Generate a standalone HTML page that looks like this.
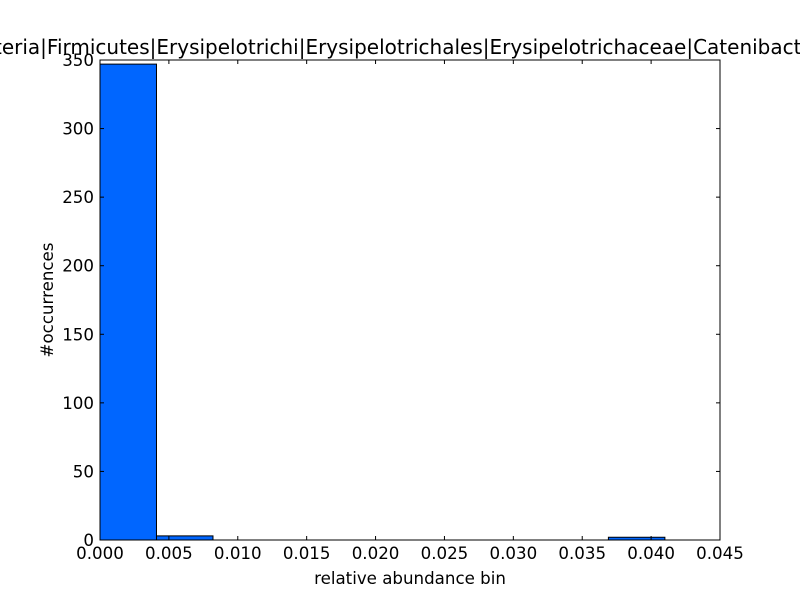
<!DOCTYPE html>
<html><head><meta charset="utf-8"><style>
html,body{margin:0;padding:0;background:#fff;}
svg{display:block;font-family:"DejaVu Sans","Liberation Sans",sans-serif;}
</style></head><body>
<svg id="chart" width="800" height="600" viewBox="0 0 800 600">
<rect width="800" height="600" fill="#fff"/>
<text x="-43" y="54" font-size="20" text-anchor="start">Bacteria|Firmicutes|Erysipelotrichi|Erysipelotrichales|Erysipelotrichaceae|Catenibacterium</text>
<g id="bars"></g>
<rect x="100" y="60" width="620" height="480" fill="none" stroke="#000" stroke-width="1"/>
<g id="ticks"></g>
<text x="410" y="584" font-size="16.67" text-anchor="middle">relative abundance bin</text>
<text transform="translate(53,300) rotate(-90)" font-size="16.67" text-anchor="middle">#occurrences</text>
</svg>
<script>
const binEdgesStart = 0;
const binWidth = 0.0041;
const counts = [347, 3, 0, 0, 0, 0, 0, 0, 0, 2];
const xTicks = [0.000,0.005,0.010,0.015,0.020,0.025,0.030,0.035,0.040,0.045];
const yTicks = [0,50,100,150,200,250,300,350];
const X0=100,X1=720,Y0=540,Y1=60,XMAX=0.045,YMAX=350;
const sx=v=>X0+(v/XMAX)*(X1-X0);
const sy=v=>Y0-(v/YMAX)*(Y0-Y1);
const NS="http://www.w3.org/2000/svg";
const bars=document.getElementById('bars');
counts.forEach((c,i)=>{
  if(c<=0) return;
  const a=binEdgesStart+i*binWidth,b=a+binWidth;
  const r=document.createElementNS(NS,'rect');
  r.setAttribute('x',sx(a));r.setAttribute('width',sx(b)-sx(a));
  r.setAttribute('y',sy(c));r.setAttribute('height',sy(0)-sy(c));
  r.setAttribute('fill','#0066ff');r.setAttribute('stroke','#000');r.setAttribute('stroke-width','1');
  
  
  bars.appendChild(r);
});
const tk=document.getElementById('ticks');
function line(x1,y1,x2,y2){const l=document.createElementNS(NS,'line');l.setAttribute('x1',x1);l.setAttribute('y1',y1);l.setAttribute('x2',x2);l.setAttribute('y2',y2);l.setAttribute('stroke','#000');tk.appendChild(l);}
xTicks.forEach(v=>{
  const x=sx(v);line(x,Y0,x,Y0-4);line(x,Y1,x,Y1+4);
  const t=document.createElementNS(NS,'text');
  t.setAttribute('x',x);t.setAttribute('y',559);t.setAttribute('font-size','16.67');t.setAttribute('text-anchor','middle');
  t.textContent=v.toFixed(3);
  
  
  tk.appendChild(t);
});
yTicks.forEach(v=>{
  const y=sy(v);line(X0,y,X0+4,y);line(X1,y,X1-4,y);
  const t=document.createElementNS(NS,'text');
  t.setAttribute('x',94);t.setAttribute('y',y+6);t.setAttribute('font-size','16.67');t.setAttribute('text-anchor','end');
  t.textContent=v;
  
  
  tk.appendChild(t);
});
</script>
</body></html>
